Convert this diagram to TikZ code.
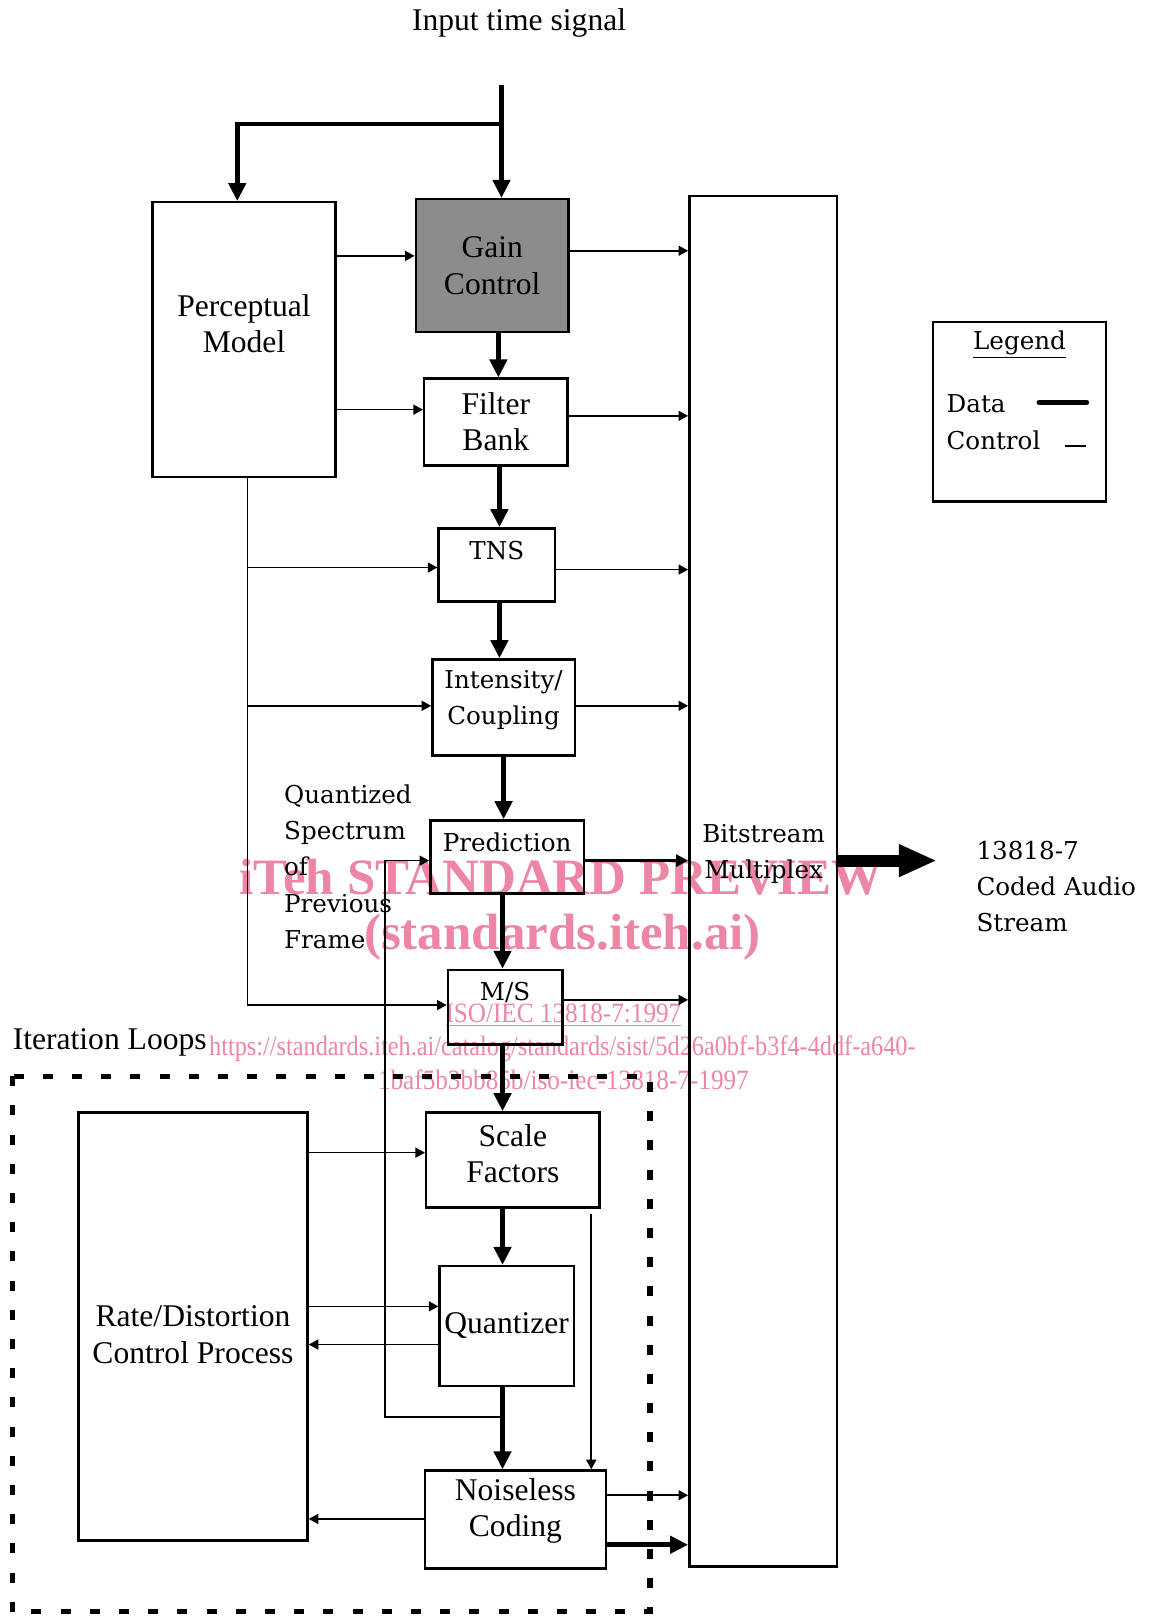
\documentclass[tikz,border=0pt]{standalone}
\usepackage{graphicx}
\usepackage{fontspec}
\setmainfont{Liberation Serif}
\newfontfamily\schfont{DejaVu Serif}
\usetikzlibrary{arrows.meta}
\definecolor{wmpink}{RGB}{236,134,164}

\begin{document}
\begin{tikzpicture}[x=0.5161pt,y=-0.5161pt,
  blk/.style={draw,line width=1.2pt,inner sep=0pt,align=center,
    font=\fontsize{15.8}{18.1}\selectfont},
  txt/.style={inner sep=0pt,align=center,font=\fontsize{15.8}{18.1}\selectfont},
  sch/.style={inner sep=0pt,align=center,font=\schfont\fontsize{12.3}{18.1}\selectfont},
  data/.style={line width=2.3pt,-{Triangle[length=9pt,width=8.5pt]}},
  mid/.style={line width=1.4pt,-{Triangle[length=6pt,width=6pt]}},
  ctl/.style={line width=0.8pt,-{Triangle[length=4.8pt,width=5pt]}},
  wm/.style={text=wmpink,inner sep=0pt}]
  \useasboundingbox (0,0) rectangle (1113,1568);

  % watermark
  \node[wm,font=\bfseries\fontsize{25.5}{28}\selectfont] (wm1) at (544,850) {iTeh STANDARD PREVIEW};
  \node[wm,font=\bfseries\fontsize{25.5}{28}\selectfont] (wm2) at (545,908) {(standards.iteh.ai)};
  \node[wm,font=\fontsize{14}{16}\selectfont] (wm3) at (546,984) {\scalebox{0.9}[1]{\underline{ISO/IEC 13818-7:1997}}};
  \node[wm,font=\fontsize{14}{16}\selectfont] (wm4) at (545,1016) {\scalebox{0.867}[1]{https://standards.iteh.ai/catalog/standards/sist/5d26a0bf-b3f4-4ddf-a640-}};
  \node[wm,font=\fontsize{14}{16}\selectfont] (wm5) at (546,1046) {\scalebox{0.9}[1]{1baf5b3bb85b/iso-iec-13818-7-1997}};

  % blocks
  \node[txt] (insig) at (503,22) {Input time signal};
  \node[blk,minimum width=91.4pt,minimum height=137.3pt] (pm) at (236.5,329) {};
  \node[txt] (pmtxt) at (236.5,314) {Perceptual\\Model};
  \node[blk,fill=black!45,minimum width=76.4pt,minimum height=66.6pt] (gc) at (477,257.5) {Gain\\Control};
  \node[blk,minimum width=71.7pt,minimum height=43.4pt] (fb) at (480.5,409) {Filter\\Bank};
  \node[blk,minimum width=58.3pt,minimum height=36.6pt] (tns) at (481.5,547.5) {};
  \node[sch] (tnstxt) at (481.5,534) {TNS};
  \node[blk,minimum width=71.2pt,minimum height=48pt] (ic) at (488,685.5) {};
  \node[sch] (ictxt) at (488,678.5) {Intensity/\\Coupling};
  \node[blk,minimum width=76.9pt,minimum height=36.6pt] (pred) at (491.5,830.5) {};
  \node[sch] (predtxt) at (491.5,816) {Prediction};
  \node[blk,minimum width=57.3pt,minimum height=37.2pt] (ms) at (489.5,976) {};
  \node[sch] (mstxt) at (489.5,962) {M/S};
  \node[sch,align=left,anchor=west] (qspec) at (275,840) {Quantized\\Spectrum\\of\\Previous\\Frame};

  \node[txt,anchor=west] (itl) at (12,1010) {Iteration Loops};
  \draw[line width=2.6pt,dash pattern=on 5pt off 9.6pt] (12,1043) rectangle (630,1562);
  \node[blk,minimum width=86.7pt,minimum height=47.5pt] (sf) at (497,1124) {};
  \node[txt] (sftxt) at (497,1118) {Scale\\Factors};
  \node[blk,minimum width=67.1pt,minimum height=59.9pt] (q) at (491,1285) {Quantizer};
  \node[blk,minimum width=90.3pt,minimum height=49pt] (nc) at (499.5,1472.5) {};
  \node[txt] (nctxt) at (499.5,1464.5) {Noiseless\\Coding};
  \node[blk,minimum width=114.6pt,minimum height=214.2pt] (rd) at (187,1285.5) {};
  \node[txt] (rdtxt) at (187,1293.5) {Rate/Distortion\\Control Process};

  \node[blk,minimum width=73.8pt,minimum height=685.4pt] (bm) at (739.5,854) {};
  \node[sch] (bmtxt) at (740,827.5) {Bitstream\\Multiplex};
  \node[sch,align=left,anchor=west] (cas) at (946,859) {13818-7\\Coded Audio\\Stream};

  % legend
  \node[blk,minimum width=86.7pt,minimum height=89.8pt] (leg) at (988,399) {};
  \node[sch] (legtxt) at (988,334) {\underline{Legend}};
  \node[sch,anchor=west] (datatxt) at (917,391) {Data};
  \node[sch,anchor=west] (ctltxt) at (917,427) {Control};
  \draw[line width=2.6pt,line cap=round] (1007,390) -- (1053,390);
  \draw[line width=1pt] (1032,432) -- (1052,432);

  % input and perceptual model
  \coordinate (in) at (486,82);
  \coordinate (split) at (486,120);
  \draw[data] (in) -- (in |- gc.north);
  \draw[data] (split) -| ([xshift=-3.4pt]pm.north);
  \draw[ctl] (pm.east |- 0,248) -- (gc.west |- 0,248);
  \draw[ctl] (pm.east |- 0,397) -- (fb.west |- 0,397);
  \coordinate (pmx) at (240,974);
  \draw[ctl] (pm.south -| pmx) |- (ms.west |- pmx);
  \draw[ctl] (pmx |- 0,550) -- (tns.west |- 0,550);
  \draw[ctl] (pmx |- 0,684) -- (ic.west |- 0,684);

  % data chain
  \draw[data] (gc.south -| 483,0) -- (fb.north -| 483,0);
  \draw[data] (fb.south -| 484,0) -- (tns.north -| 484,0);
  \draw[data] (tns.south -| 484,0) -- (ic.north -| 484,0);
  \draw[data] (ic.south -| 488,0) -- (pred.north -| 488,0);
  \draw[data] (pred.south -| 487,0) -- (ms.north -| 487,0);
  \draw[data] (ms.south -| 487,0) -- (sf.north -| 487,0);
  \draw[data] (sf.south -| 487,0) -- (q.north -| 487,0);
  \draw[data] (q.south -| 487,0) -- (nc.north -| 487,0);

  % side info to the multiplex
  \draw[ctl] (gc.east |- 0,243) -- (bm.west |- 0,243);
  \draw[ctl] (fb.east |- 0,403) -- (bm.west |- 0,403);
  \draw[ctl] (tns.east |- 0,552) -- (bm.west |- 0,552);
  \draw[ctl] (ic.east |- 0,684) -- (bm.west |- 0,684);
  \draw[mid] (pred.east |- 0,834) -- (bm.west |- 0,834);
  \draw[ctl] (ms.east |- 0,969) -- (bm.west |- 0,969);
  \draw[ctl] (nc.east |- 0,1449) -- (bm.west |- 0,1449);
  \draw[data] (nc.east |- 0,1497) -- (bm.west |- 0,1497);

  % iteration loops
  \coordinate (fbk) at (373,1373);
  \draw[ctl] (fbk -| 487,0) -- (fbk) |- (pred.west |- 0,834);
  \draw[ctl] (rd.east |- 0,1117) -- (sf.west |- 0,1117);
  \draw[ctl] (rd.east |- 0,1266) -- (q.west |- 0,1266);
  \draw[ctl] (q.west |- 0,1303) -- (rd.east |- 0,1303);
  \draw[ctl] (nc.west |- 0,1472) -- (rd.east |- 0,1472);
  \draw[ctl] ([yshift=-2.5pt]573,0 |- sf.south) -- (573,0 |- nc.north);

  % output
  \coordinate (out) at (908,834);
  \draw[line width=6pt,-{Triangle[length=19pt,width=15pt]}] (bm.east |- out) -- (out);
\end{tikzpicture}
\end{document}
